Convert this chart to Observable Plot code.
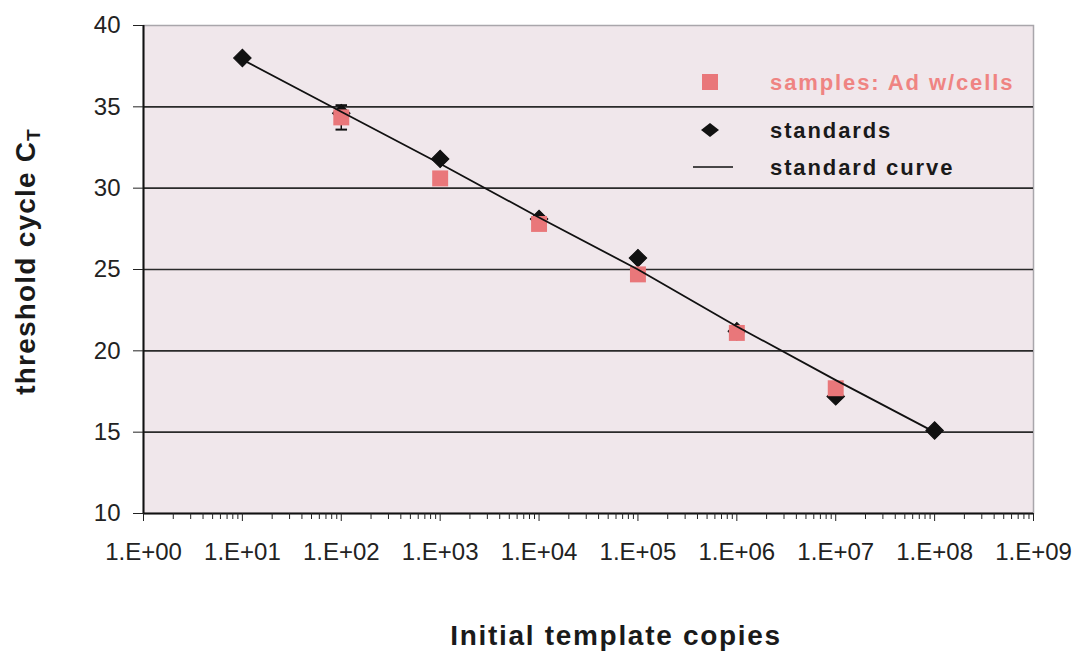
<!DOCTYPE html>
<html>
<head>
<meta charset="utf-8">
<script src="https://cdn.jsdelivr.net/npm/d3@7"></script>
<script src="https://cdn.jsdelivr.net/npm/@observablehq/plot@0.6"></script>
<style>
  html, body { margin: 0; padding: 0; background: #ffffff; }
  #wrap { position: relative; width: 1078px; height: 658px; overflow: hidden; font-family: "Liberation Sans", Arial, sans-serif; }
  #chart { position: absolute; left: 0; top: 0; }
  .ytitle { position: absolute; left: 27px; top: 262px; transform: translate(-50%, -50%) rotate(-90deg); white-space: nowrap;
            font-weight: bold; font-size: 28px; letter-spacing: 1.2px; color: #1a1a1a; }
  .ytitle sub { font-size: 19px; vertical-align: -5px; letter-spacing: 0; }
  .xtitle { position: absolute; left: 616px; top: 620px; transform: translateX(-50%); white-space: nowrap;
            font-weight: bold; font-size: 28px; letter-spacing: 1.7px; color: #1a1a1a; }
  .leg { position: absolute; font-weight: bold; font-size: 22px; letter-spacing: 1.9px; white-space: nowrap; line-height: 1; }
</style>
</head>
<body>
<div id="wrap">
  <div id="chart"></div>
  <div class="ytitle">threshold cycle C<sub>T</sub></div>
  <div class="xtitle">Initial template copies</div>
  <svg id="legsw" width="1078" height="658" style="position:absolute;left:0;top:0;pointer-events:none"></svg>
  <div id="legtext"></div>
</div>
<script>
// ---- data ----
const decadeTicks = [1e0, 1e1, 1e2, 1e3, 1e4, 1e5, 1e6, 1e7, 1e8, 1e9];
const decadeLabels = ["1.E+00", "1.E+01", "1.E+02", "1.E+03", "1.E+04", "1.E+05", "1.E+06", "1.E+07", "1.E+08", "1.E+09"];
const yTicks = [10, 15, 20, 25, 30, 35, 40];
const gridLines = [15, 20, 25, 30, 35];

// standards (black diamonds)
const standardCopies = [1e1, 1e2, 1e3, 1e4, 1e5, 1e6, 1e7, 1e8];
const standardCt = [38.0, 34.6, 31.8, 28.1, 25.7, 21.2, 17.2, 15.1];

// samples: Ad w/cells (pink squares)
const sampleCopies = [1e2, 1e3, 1e4, 1e5, 1e6, 1e7];
const sampleCt = [34.35, 30.6, 27.8, 24.7, 21.1, 17.7];
const sampleErr = [0.75, 0, 0, 0, 0, 0];

// standard curve
const curveCopies = [1e1, 1e2, 1e3, 1e4, 1e5, 1e6, 1e7, 1e8];
const curveCt = [37.9, 34.7, 31.5, 28.2, 25.0, 21.5, 18.2, 15.0];

// legend entries
const legendLabels = ["samples: Ad w/cells", "standards", "standard curve"];

// ---- build tables ----
const standards = standardCopies.map((x, i) => ({x, y: standardCt[i]}));
const samples = sampleCopies.map((x, i) => ({x, y: sampleCt[i], e: sampleErr[i]}));
const errs = samples.filter(d => d.e > 0);
const curve = curveCopies.map((x, i) => ({x, y: curveCt[i]}));
const minorTicks = [];
for (let k = 0; k < 9; k++) for (let m = 2; m <= 9; m++) minorTicks.push(m * Math.pow(10, k));

const pink = "#e9777a";
const capSymbol = {draw(ctx, size) { const w = Math.sqrt(size); ctx.moveTo(-w / 2, 0); ctx.lineTo(w / 2, 0); }};

const chart = Plot.plot({
  width: 1078,
  height: 658,
  marginLeft: 143,
  marginRight: 45,
  marginTop: 25,
  marginBottom: 145,
  x: {type: "log", domain: [1, 1e9]},
  y: {domain: [10, 40]},
  style: {background: "#ffffff", fontFamily: "'Liberation Sans', Arial, sans-serif", color: "#222"},
  marks: [
    Plot.frame({fill: "#f0e7eb", stroke: "#a9a6ab", strokeWidth: 1.5}),
    Plot.ruleY(gridLines, {stroke: "#2a2a2a", strokeWidth: 1.7}),
    Plot.ruleX([1], {stroke: "#111", strokeWidth: 2}),
    Plot.ruleY([10], {stroke: "#111", strokeWidth: 2}),
    Plot.axisY({ticks: yTicks, tickSize: 10, tickPadding: 13, fontSize: 24, label: null, tickFormat: d => String(d)}),
    Plot.axisX({ticks: minorTicks, tickSize: 6, tickFormat: () => "", label: null}),
    Plot.axisX({ticks: decadeTicks, tickSize: 8, tickPadding: 21, fontSize: 24, label: null,
                tickFormat: d => decadeLabels[decadeTicks.indexOf(d)]}),
    Plot.dot(standards, {x: "x", y: "y", symbol: "square", rotate: 45, r: 7, fill: "#111", stroke: "#111", strokeWidth: 1}),
    Plot.ruleX(errs, {x: "x", y1: d => d.y - d.e, y2: d => d.y + d.e, stroke: "#111", strokeWidth: 1.5}),
    Plot.dot(errs, {x: "x", y: d => d.y - d.e, symbol: capSymbol, r: 6.5, stroke: "#111", strokeWidth: 2, fill: "none"}),
    Plot.dot(errs, {x: "x", y: d => d.y + d.e, symbol: capSymbol, r: 6.5, stroke: "#111", strokeWidth: 2, fill: "none"}),
    Plot.dot(samples, {x: "x", y: "y", symbol: "square", r: 9, fill: pink}),
    Plot.line(curve, {x: "x", y: "y", stroke: "#111", strokeWidth: 1.8})
  ]
});
document.getElementById("chart").appendChild(chart);

// ---- legend ----
const sw = d3.select("#legsw");
sw.append("rect").attr("x", 702).attr("y", 74).attr("width", 16).attr("height", 16).attr("fill", pink);
sw.append("path").attr("d", "M710,123 L719,130 L710,137 L701,130 Z").attr("fill", "#111");
sw.append("line").attr("x1", 693).attr("x2", 733).attr("y1", 167).attr("y2", 167).attr("stroke", "#111").attr("stroke-width", 1.6);
const lt = d3.select("#legtext");
const legColors = ["#ef8482", "#1a1a1a", "#1a1a1a"];
const legTops = [72, 120, 157];
legendLabels.forEach((t, i) => {
  lt.append("div").attr("class", "leg").style("left", "770px").style("top", legTops[i] + "px").style("color", legColors[i]).text(t);
});
</script>
</body>
</html>
